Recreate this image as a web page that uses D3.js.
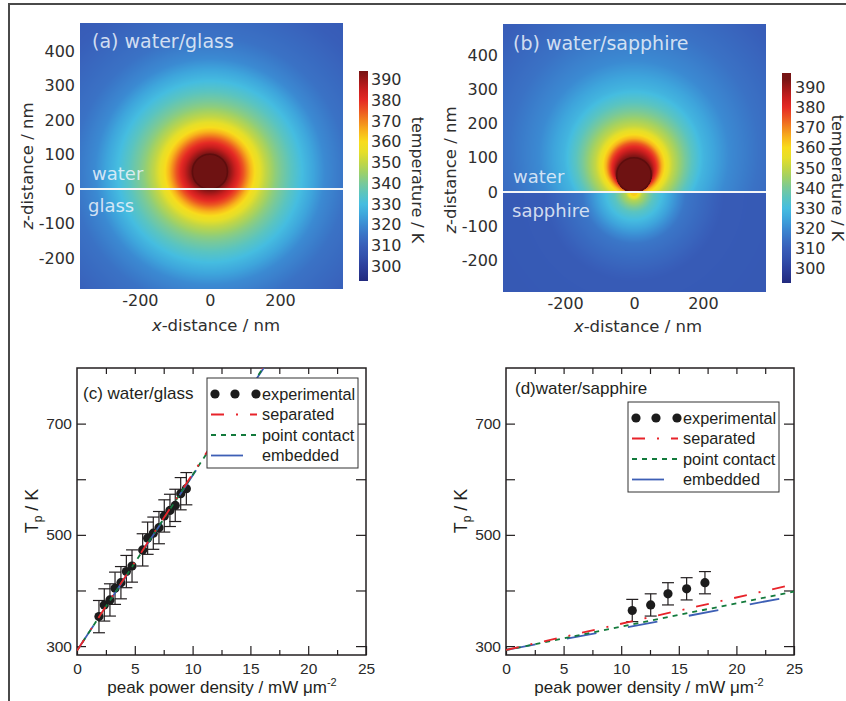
<!DOCTYPE html>
<html>
<head>
<meta charset="utf-8">
<script src="https://cdn.jsdelivr.net/npm/d3@7"></script>
<style>
body { margin: 0; background: #fff; }
</style>
</head>
<body>
<svg id="fig" width="846" height="701"></svg>
<script>
// ---- colour map (K -> colour)
const cmapTemps  = [293, 300, 305, 310, 315, 320, 325, 330, 335, 340, 345, 350, 355, 360, 365, 370, 375, 380, 385, 390, 394];
const cmapColors = ["#222a7e", "#2c3f9c", "#3250ac", "#385eb9", "#3a72c5", "#3b8ad2", "#3ea6dc", "#45bde0", "#5ac4c0", "#78c99a",
                    "#9cd06a", "#c2d645", "#e6df28", "#f8dc1c", "#f8b41c", "#f2861e", "#ec5522", "#e52a24", "#c81e1e", "#9c1818", "#761414"];

// ---- heat maps: temperature contours (K) as circles (radius, centre height in nm)
const levelTemps        = [394, 385, 375, 365, 358, 350, 343, 335, 328, 320, 315, 310, 305];
const glassRadius       = [52, 72, 96, 116, 133, 159, 188, 232, 275, 328, 391, 522, 800];
const glassCenterZ      = [50, 50, 50, 50, 50, 50, 50, 50, 50, 50, 50, 50, 50];
const sapphWaterRadius  = [52, 58, 70, 81, 93, 112, 137, 168, 203, 276, 362, 493, 754];
const sapphWaterCenterZ = [50, 65, 73, 76, 79, 82, 86, 94, 102, 108, 122, 137, 166];
const sapphSubTemps     = [362, 348, 335, 326, 316, 309, 306];
const sapphSubRadius    = [10, 25, 58, 100, 150, 260, 900];
const sapphSubCenterZ   = [0, 0, 0, 0, 0, 0, 0];
const particleZ = 50, particleR = 50;   // nm

const mapXTicks = [-200, 0, 200];
const mapZTicks = [-200, -100, 0, 100, 200, 300, 400];
const barTicks  = [300, 310, 320, 330, 340, 350, 360, 370, 380, 390];

// ---- Tp vs peak power density
const glassPower = [1.9, 2.36, 2.85, 3.29, 3.8, 4.27, 4.76, 5.68, 6.11, 6.6, 7.09, 7.55, 8.04, 8.5, 8.97, 9.46];
const glassTp    = [353, 374, 383, 404, 414, 434, 444, 473, 494, 503, 513, 534, 544, 553, 574, 583];
const glassErr   = [29, 29, 29, 29, 29, 29, 29, 29, 29, 29, 29, 29, 29, 29, 29, 29];
const sapphPower = [10.96, 12.56, 14.06, 15.68, 17.27];
const sapphTp    = [364, 374, 394, 403, 414];
const sapphErr   = [20, 20, 20, 20, 20];

const glassModelPower   = [0, 16.5];
const glassSeparated    = [292, 816];
const glassPointContact = [292, 813];
const glassEmbedded     = [292, 811];
const sapphModelPower   = [0, 25];
const sapphSeparated    = [293, 411];
const sapphPointContact = [293, 398];
const sapphEmbedded     = [293, 390];

const legendLabels = ["experimental", "separated", "point contact", "embedded"];
const powerTicks = [0, 5, 10, 15, 20, 25];
const tpTicks = [300, 400, 500, 600, 700];

const svg = d3.select("#fig");
const heatColor = d3.scaleLinear().domain(cmapTemps).range(cmapColors).clamp(true);

// lookup table so we don't parse colours per pixel
const lut = [];
for (let k = 0; k <= 2200; k++) lut.push(d3.rgb(heatColor(290 + k * 0.05)));
const lutColor = t => lut[Math.max(0, Math.min(2200, Math.round((t - 290) / 0.05)))];

function levelTemp(px, pz, temps, radii, centers) {
    let prev = 0;
    for (let i = 0; i < temps.length; i++) {
        const a = Math.hypot(px, pz - centers[i]) - radii[i];
        if (a <= 0) {
            if (i === 0) return temps[0];
            return temps[i - 1] + (temps[i] - temps[i - 1]) * prev / (prev - a);
        }
        prev = a;
    }
    return temps[temps.length - 1];
}

const mapFont = "'DejaVu Sans', Verdana, sans-serif";
const plotFont = "'Liberation Sans', Arial, Helvetica, sans-serif";

function drawHeatmap(p) {
    const g = svg.append("g");
    const x = d3.scaleLinear().domain(p.xDom).range([p.x0, p.x1]);
    const z = d3.scaleLinear().domain(p.zDom).range([p.y1, p.y0]);
    const w = p.x1 - p.x0, h = p.y1 - p.y0;

    const canvas = document.createElement("canvas");
    canvas.width = w; canvas.height = h;
    const ctx = canvas.getContext("2d");
    const img = ctx.createImageData(w, h);
    for (let j = 0; j < h; j++) {
        const zz = z.invert(p.y0 + j + 0.5);
        for (let i = 0; i < w; i++) {
            const xx = x.invert(p.x0 + i + 0.5);
            const t = zz >= 0 ? levelTemp(xx, zz, ...p.upper) : levelTemp(xx, zz, ...p.lower);
            const c = lutColor(t);
            const k = (j * w + i) * 4;
            img.data[k] = c.r; img.data[k + 1] = c.g; img.data[k + 2] = c.b; img.data[k + 3] = 255;
        }
    }
    ctx.putImageData(img, 0, 0);
    g.append("image")
        .attr("x", p.x0).attr("y", p.y0)
        .attr("width", w).attr("height", h)
        .attr("preserveAspectRatio", "none")
        .attr("href", canvas.toDataURL());

    // particle
    g.append("circle")
        .attr("cx", x(0)).attr("cy", z(particleZ))
        .attr("r", x(particleR) - x(0))
        .attr("fill", "#6e1212")
        .attr("stroke", "#560c0c").attr("stroke-opacity", 0.7).attr("stroke-width", 1.5);

    // interface
    g.append("line")
        .attr("x1", p.x0).attr("x2", p.x1)
        .attr("y1", z(0)).attr("y2", z(0))
        .attr("stroke", "#f4f6f8").attr("stroke-width", 2);

    // labels on the map
    const lab = g.append("g").attr("font-family", mapFont).attr("fill", "#eef4fb").attr("fill-opacity", 0.85);
    lab.append("text").attr("x", p.titleX).attr("y", p.titleY).attr("font-size", 19).text(p.title);
    lab.append("text").attr("x", p.upX).attr("y", p.upY).attr("font-size", 18).text("water");
    lab.append("text").attr("x", p.lowX).attr("y", p.lowY).attr("font-size", 18).text(p.lower_name);

    // axes (labels only)
    const ax = g.append("g")
        .attr("transform", `translate(0,${p.y1})`)
        .call(d3.axisBottom(x).tickValues(mapXTicks).tickSize(0).tickPadding(6).tickFormat(d => String(d)));
    const az = g.append("g")
        .attr("transform", `translate(${p.x0},0)`)
        .call(d3.axisLeft(z).tickValues(mapZTicks).tickSize(0).tickPadding(5).tickFormat(d => String(d)));
    [ax, az].forEach(a => {
        a.select(".domain").remove();
        a.attr("font-family", mapFont).attr("font-size", 16);
        a.selectAll("text").attr("fill", "#2e2e2e");
    });

    const xl = g.append("text")
        .attr("x", p.xLabX).attr("y", p.xLabY)
        .attr("text-anchor", "middle")
        .attr("font-family", mapFont).attr("font-size", 16.5).attr("fill", "#2e2e2e");
    xl.append("tspan").attr("font-style", "italic").text("x");
    xl.append("tspan").text("-distance  / nm");

    const zl = g.append("text")
        .attr("transform", `translate(${p.zLabX},${p.zLabY}) rotate(-90)`)
        .attr("text-anchor", "middle")
        .attr("font-family", mapFont).attr("font-size", 16.5).attr("fill", "#2e2e2e");
    zl.append("tspan").attr("font-style", "italic").text("z");
    zl.append("tspan").text("-distance  / nm");

    // colour bar
    const cb = d3.scaleLinear().domain(p.barDom).range([p.barY1, p.barY0]);
    const gradId = "grad_" + p.id;
    const grad = svg.append("defs").append("linearGradient")
        .attr("id", gradId).attr("x1", 0).attr("y1", 1).attr("x2", 0).attr("y2", 0);
    const stops = d3.range(p.barDom[0], p.barDom[1] + 0.01, 1);
    grad.selectAll("stop").data(stops).join("stop")
        .attr("offset", d => (d - p.barDom[0]) / (p.barDom[1] - p.barDom[0]))
        .attr("stop-color", d => heatColor(d));
    g.append("rect")
        .attr("x", p.barX).attr("y", p.barY0)
        .attr("width", 9).attr("height", p.barY1 - p.barY0)
        .attr("fill", `url(#${gradId})`);
    const ab = g.append("g")
        .attr("transform", `translate(${p.barX + 9},0)`)
        .call(d3.axisRight(cb).tickValues(barTicks).tickSize(0).tickPadding(p.barPad));
    ab.select(".domain").remove();
    ab.attr("font-family", mapFont).attr("font-size", 16);
    ab.selectAll("text").attr("fill", "#2e2e2e");

    g.append("text")
        .attr("transform", `translate(${p.barLabX},${p.barLabY}) rotate(90)`)
        .attr("text-anchor", "middle")
        .attr("font-family", mapFont).attr("font-size", 16).attr("fill", "#2e2e2e")
        .text("temperature / K");
}

drawHeatmap({
    id: "a", x0: 80, x1: 343, y0: 23, y1: 289,
    xDom: [-371, 380], zDom: [-290, 481],
    upper: [levelTemps, glassRadius, glassCenterZ],
    lower: [levelTemps, glassRadius, glassCenterZ],
    title: "(a) water/glass", titleX: 92, titleY: 48,
    upX: 92, upY: 180, lowX: 88, lowY: 212, lower_name: "glass",
    xLabX: 216, xLabY: 331, zLabX: 33, zLabY: 166,
    barDom: [293, 394], barX: 359, barY0: 71, barY1: 281, barPad: 3,
    barLabX: 412, barLabY: 180
});

drawHeatmap({
    id: "b", x0: 503, x1: 766, y0: 24, y1: 292,
    xDom: [-380, 383], zDom: [-292, 491],
    upper: [levelTemps, sapphWaterRadius, sapphWaterCenterZ],
    lower: [sapphSubTemps, sapphSubRadius, sapphSubCenterZ],
    title: "(b) water/sapphire", titleX: 513, titleY: 50,
    upX: 513, upY: 183, lowX: 512, lowY: 217, lower_name: "sapphire",
    xLabX: 638, xLabY: 332, zLabX: 456, zLabY: 170,
    barDom: [293, 397], barX: 782, barY0: 73, barY1: 283, barPad: 4,
    barLabX: 832, barLabY: 178
});

// ---- Tp plots (drawn blue first so red ends on top, as in the figure)
const red = "#e8232a", green = "#137a3c", blue = "#3d5fb5";
const models = [
    { name: "separated", color: red, dash: "13,12,2,12" },
    { name: "point contact", color: green, dash: "5,5" },
    { name: "embedded", color: blue, dash: "30,32" }
];

function drawPlot(p) {
    const g = svg.append("g");
    const x = d3.scaleLinear().domain([0, 25]).range([p.x0, p.x1]);
    const y = d3.scaleLinear().domain([284, 800]).range([p.y1, p.y0]);

    const clipId = "clip_" + p.id;
    svg.append("defs").append("clipPath").attr("id", clipId)
        .append("rect").attr("x", p.x0).attr("y", p.y0)
        .attr("width", p.x1 - p.x0).attr("height", p.y1 - p.y0);

    // ticks (inward)
    const minor = d3.range(0, 25.01, 2.5);
    const tick = (axis, tr) => {
        const a = g.append("g").attr("transform", tr).call(axis);
        a.select(".domain").remove();
        a.selectAll("line").attr("stroke", "#231f20").attr("stroke-width", 1.2);
        a.attr("font-family", plotFont).attr("font-size", 15.5);
        a.selectAll("text").attr("fill", "#2a2a2a");
        return a;
    };
    tick(d3.axisBottom(x).tickValues(powerTicks).tickSize(-9).tickPadding(8), `translate(0,${p.y1})`);
    tick(d3.axisBottom(x).tickValues(minor.filter(d => d % 5 !== 0)).tickSize(-5).tickFormat(""), `translate(0,${p.y1})`);
    tick(d3.axisTop(x).tickValues(minor.slice(1, -1)).tickSize(-6).tickFormat(""), `translate(0,${p.y0})`);
    tick(d3.axisLeft(y).tickValues(tpTicks).tickSize(-9).tickPadding(5)
        .tickFormat(d => (d - 300) % 200 === 0 ? d : ""), `translate(${p.x0},0)`);
    tick(d3.axisRight(y).tickValues(tpTicks).tickSize(-10).tickFormat(""), `translate(${p.x1},0)`);

    g.append("rect")
        .attr("x", p.x0).attr("y", p.y0)
        .attr("width", p.x1 - p.x0).attr("height", p.y1 - p.y0)
        .attr("fill", "none").attr("stroke", "#231f20").attr("stroke-width", 1.5);

    // experimental points
    const pts = p.power.map((d, i) => ({ x: d, t: p.tp[i], e: p.err[i] }));
    const eb = g.append("g").attr("stroke", "#231f20").attr("stroke-width", 1.2);
    eb.selectAll(".v").data(pts).join("line")
        .attr("x1", d => x(d.x)).attr("x2", d => x(d.x))
        .attr("y1", d => y(d.t - d.e)).attr("y2", d => y(d.t + d.e));
    eb.selectAll(".t").data(pts.flatMap(d => [d.t - d.e, d.t + d.e].map(v => ({ x: d.x, v }))))
        .join("line")
        .attr("x1", d => x(d.x) - 6).attr("x2", d => x(d.x) + 6)
        .attr("y1", d => y(d.v)).attr("y2", d => y(d.v));
    g.append("g").selectAll("circle").data(pts).join("circle")
        .attr("cx", d => x(d.x)).attr("cy", d => y(d.t)).attr("r", 4.6)
        .attr("fill", "#1c1c1c");

    // model curves
    const line = d3.line().x(d => x(d[0])).y(d => y(d[1]));
    const lg = g.append("g").attr("clip-path", `url(#${clipId})`);
    [2, 1, 0].forEach(i => {
        const m = models[i];
        const vals = p.modelPower.map((d, k) => [d, p.models[i][k]]);
        lg.append("path").datum(vals)
            .attr("d", line)
            .attr("fill", "none").attr("stroke", m.color)
            .attr("stroke-width", 1.8).attr("stroke-dasharray", m.dash);
    });

    // title and labels
    g.append("text").attr("x", p.titleX).attr("y", p.titleY)
        .attr("font-family", plotFont).attr("font-size", 17).attr("fill", "#231f20")
        .text(p.title);

    const xl = g.append("text")
        .attr("x", p.xLabX).attr("y", 693).attr("text-anchor", "middle")
        .attr("font-family", plotFont).attr("font-size", 17).attr("fill", "#231f20");
    xl.append("tspan").text("peak power density / mW \u03bcm");
    xl.append("tspan").attr("font-size", 11).attr("dy", -7).text("-2");

    const yl = g.append("text")
        .attr("transform", `translate(${p.yLabX},511) rotate(-90)`)
        .attr("text-anchor", "middle")
        .attr("font-family", plotFont).attr("font-size", 18).attr("fill", "#231f20");
    yl.append("tspan").text("T");
    yl.append("tspan").attr("font-size", 12).attr("dy", 4).text("p");
    yl.append("tspan").attr("dy", -4).text(" / K");

    // legend
    const L = g.append("g").attr("transform", `translate(${p.legX},${p.legY})`);
    L.append("rect").attr("width", 151).attr("height", 90)
        .attr("fill", "#fff").attr("stroke", "#333").attr("stroke-width", 1);
    const rowY = i => 16 + i * 20.5;
    L.selectAll(".dot").data([8, 28, 49]).join("circle")
        .attr("cx", d => d).attr("cy", rowY(0)).attr("r", 4.6).attr("fill", "#1c1c1c");
    models.forEach((m, i) => {
        L.append("line")
            .attr("x1", 4).attr("x2", m.name === "embedded" ? 36 : 50)
            .attr("y1", rowY(i + 1)).attr("y2", rowY(i + 1))
            .attr("stroke", m.color).attr("stroke-width", 1.8)
            .attr("stroke-dasharray", m.name === "embedded" ? null : m.dash);
    });
    L.selectAll(".lt").data(legendLabels).join("text")
        .attr("x", 55).attr("y", (d, i) => rowY(i) + 5.5)
        .attr("font-family", plotFont).attr("font-size", 16.3).attr("fill", "#231f20")
        .text(d => d);
}

drawPlot({
    id: "c", x0: 77, x1: 366, y0: 368, y1: 655,
    power: glassPower, tp: glassTp, err: glassErr,
    modelPower: glassModelPower, models: [glassSeparated, glassPointContact, glassEmbedded],
    title: "(c) water/glass", titleX: 83, titleY: 399,
    xLabX: 222, yLabX: 38, legX: 207, legY: 378
});

drawPlot({
    id: "d", x0: 506, x1: 794, y0: 368, y1: 655,
    power: sapphPower, tp: sapphTp, err: sapphErr,
    modelPower: sapphModelPower, models: [sapphSeparated, sapphPointContact, sapphEmbedded],
    title: "(d)water/sapphire", titleX: 515, titleY: 394,
    xLabX: 649, yLabX: 467, legX: 628, legY: 402
});

// figure frame (top and left edges)
svg.append("path")
    .attr("d", "M9,701 V4 H846")
    .attr("fill", "none").attr("stroke", "#4a4a4a").attr("stroke-width", 2);
</script>
</body>
</html>
